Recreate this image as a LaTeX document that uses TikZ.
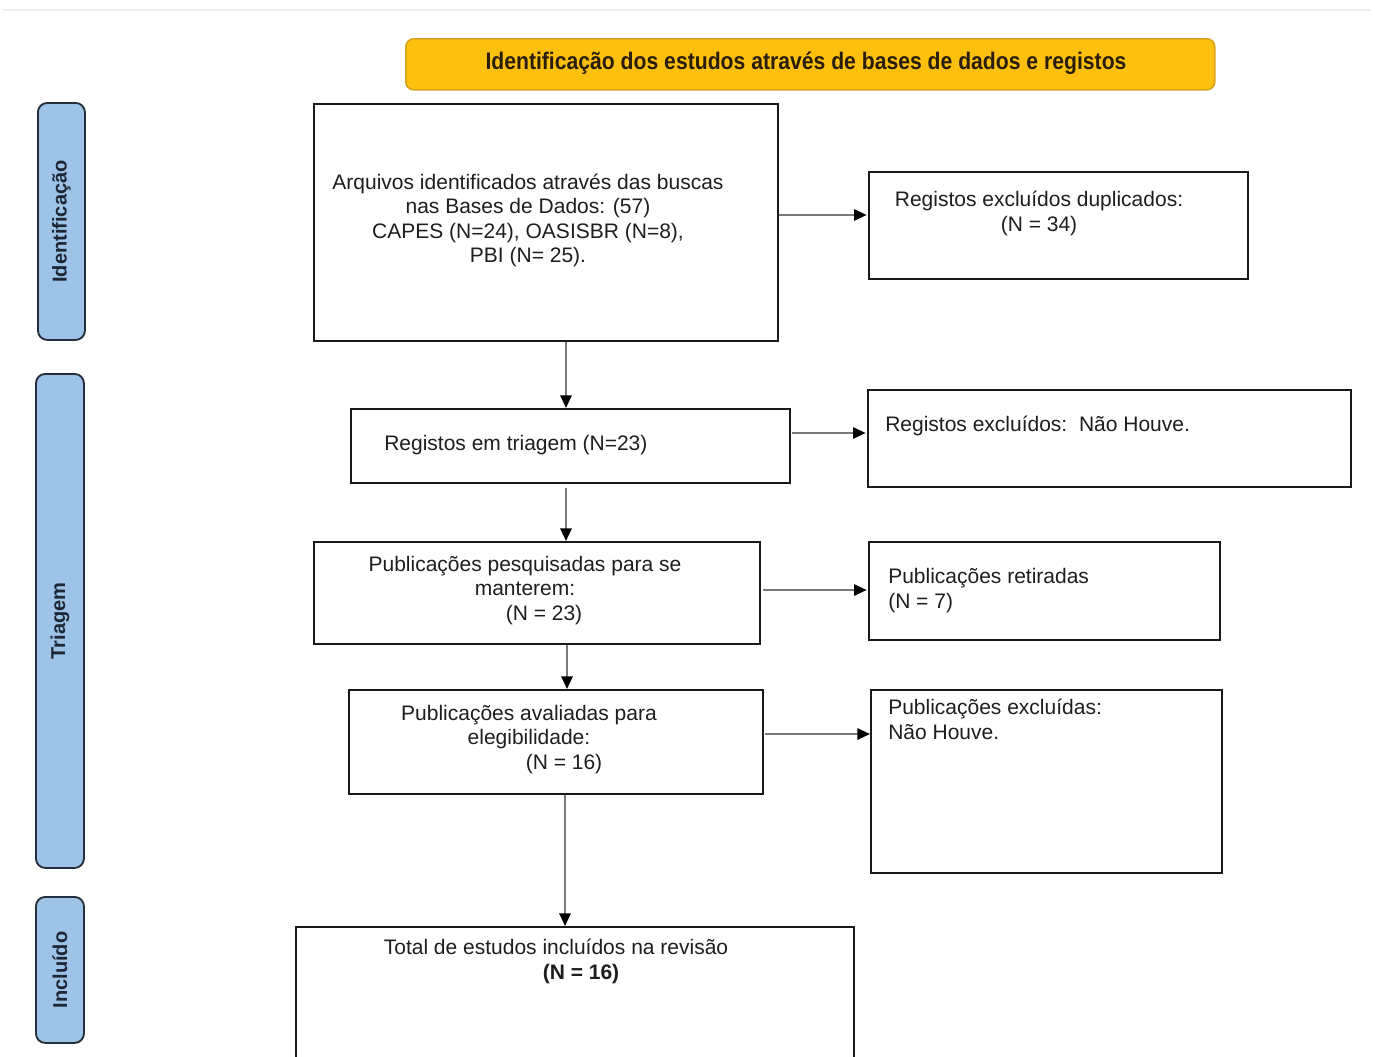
\documentclass[tikz,border=0pt]{standalone}
\usepackage{fontspec}
\usepackage{graphicx}
\setmainfont{Liberation Sans}
\usetikzlibrary{arrows.meta}
\definecolor{bannerfill}{HTML}{FEC00F}
\definecolor{bannerdraw}{HTML}{D9A21A}
\definecolor{bannertext}{HTML}{2A1E0A}
\definecolor{sidefill}{HTML}{9DC3E6}
\definecolor{sidedraw}{HTML}{26303D}
\definecolor{sidetext}{HTML}{1C2636}
\definecolor{boxdraw}{HTML}{1A1A1A}
\definecolor{bodytext}{HTML}{1E1E1E}
\definecolor{linkgray}{HTML}{7A7A7A}
\definecolor{topline}{HTML}{EEEEEE}
\tikzset{
  flowbox/.style 2 args={draw=boxdraw, line width=1.25pt, fill=white, inner sep=0pt,
    anchor=north west, minimum width=#1*0.75pt, minimum height=#2*0.75pt},
  sidebox/.style 2 args={draw=sidedraw, line width=1.4pt, fill=sidefill, rounded corners=7pt,
    inner sep=0pt, anchor=north west, minimum width=#1*0.75pt, minimum height=#2*0.75pt},
  sidetxt/.style={rotate=90, text=sidetext, font=\fontsize{15pt}{18pt}\selectfont\bfseries, inner sep=0pt},
  bodytxt/.style={text=bodytext, font=\fontsize{15.75pt}{18.4pt}\selectfont, inner sep=0pt},
  link/.style={draw=linkgray, line width=1.5pt, -{Triangle[length=9.5pt,width=8.5pt,color=black]}}
}
\begin{document}
\begin{tikzpicture}[x=0.75pt,y=-0.75pt]
\useasboundingbox (0,0) rectangle (1375,1057);
\begin{scope}
\clip (0,0) rectangle (1375,1057);
\fill[white] (0,0) rectangle (1375,1057);
\draw[topline, line width=1.5pt] (3,10) coordinate (tl1) -- (1370,10) coordinate (tl2);

% banner
\node[draw=bannerdraw, fill=bannerfill, line width=1.2pt, rounded corners=6pt, inner sep=0pt,
  anchor=north west, minimum width=809*0.75pt, minimum height=51*0.75pt] (banner) at (405,38) {};
\node[text=bannertext, inner sep=0pt] (bannertxt) at (806,63)
  {\resizebox{480.75pt}{\height}{\fontsize{18pt}{18pt}\selectfont\bfseries Identificação dos estudos através de bases de dados e registos}};

% side labels
\node[sidebox={47}{237}] (s1) at (37,102) {};
\node[sidetxt] (s1t) at (s1.center) {Identificação};
\node[sidebox={48}{494}] (s2) at (35,373) {};
\node[sidetxt] (s2t) at (s2.center) {Triagem};
\node[sidebox={48}{146}] (s3) at (35,896) {};
\node[sidetxt] (s3t) at (s3.center) {Incluído};

% boxes
\node[flowbox={464}{237}] (A) at (313,103) {};
\node[flowbox={379}{107}] (B) at (868,171) {};
\node[flowbox={439}{74}] (C) at (350,408) {};
\node[flowbox={483}{97}] (D) at (867,389) {};
\node[flowbox={446}{102}] (E) at (313,541) {};
\node[flowbox={351}{98}] (F) at (868,541) {};
\node[flowbox={414}{104}] (G) at (348,689) {};
\node[flowbox={351}{183}] (H) at (870,689) {};
\node[flowbox={558}{170}] (I) at (295,926) {};

% texts
\node[bodytxt, align=center] (tA) at (528,220.5)
  {Arquivos identificados através das buscas\\nas Bases de Dados: (57)\\CAPES (N=24), OASISBR (N=8),\\PBI (N= 25).};
\node[bodytxt, align=center] (tB) at (1039,213.5) {Registos excluídos duplicados:\\(N = 34)};
\node[bodytxt, anchor=west] (tC) at (384,445) {Registos em triagem (N=23)};
\node[bodytxt, anchor=west] (tD) at (885,426) {Registos excluídos:\ \ Não Houve.};
\node[bodytxt, align=center] (tE) at (525,590.5)
  {Publicações pesquisadas para se\\manterem:\\\hspace*{28.5pt}(N = 23)};
\node[bodytxt, align=left, anchor=west] (tF) at (888,590.5) {Publicações retiradas\\(N = 7)};
\node[bodytxt, align=center] (tG) at (529,739.5)
  {Publicações avaliadas para\\elegibilidade:\\\hspace*{52.5pt}(N = 16)};
\node[bodytxt, align=left, anchor=west] (tH) at (888,719.5) {Publicações excluídas:\\Não Houve.};
\node[bodytxt, align=center] (tI) at (556,961.5)
  {Total de estudos incluídos na revisão\\\hspace*{37.5pt}\textbf{(N = 16)}};

% connector guides
\coordinate (v1) at (566,0);
\coordinate (v2) at (566,0);
\coordinate (v3) at (567,0);
\coordinate (v4) at (565,0);
\coordinate (h1) at (0,215);
\coordinate (h2) at (0,433);
\coordinate (h3) at (0,590);
\coordinate (h4) at (0,734);

% vertical connectors
\draw[link] (A.south -| v1) -- (C.north -| v1);
\draw[link] ([yshift=-3pt]C.south -| v2) -- (E.north -| v2);
\draw[link] (E.south -| v3) -- (G.north -| v3);
\draw[link] (G.south -| v4) -- (I.north -| v4);
% horizontal connectors
\draw[link] (A.east |- h1) -- ([xshift=-1pt]B.west |- h1);
\draw[link] ([xshift=1pt]C.east |- h2) -- ([xshift=-1pt]D.west |- h2);
\draw[link] ([xshift=2pt]E.east |- h3) -- ([xshift=-1pt]F.west |- h3);
\draw[link] ([xshift=1pt]G.east |- h4) -- (H.west |- h4);
\end{scope}
\end{tikzpicture}
\end{document}
